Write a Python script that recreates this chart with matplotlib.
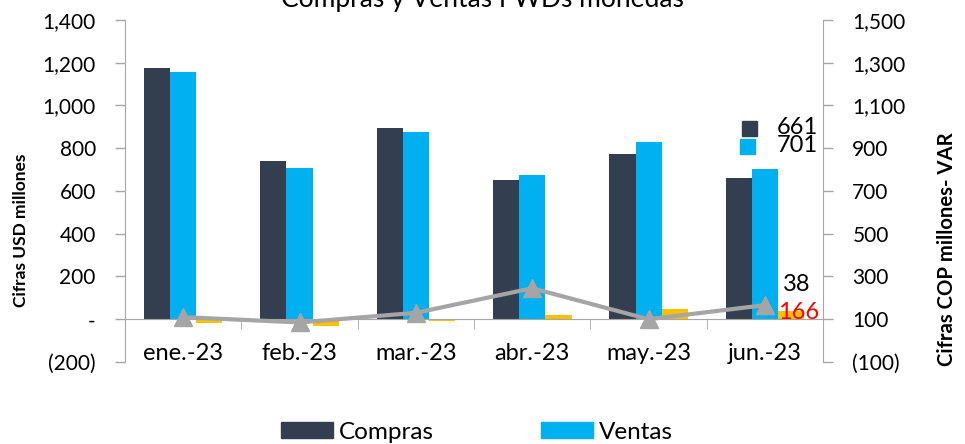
import matplotlib
matplotlib.use('Agg')
import matplotlib.pyplot as plt
import matplotlib.transforms as mtransforms
from matplotlib.patches import Patch
from matplotlib.ticker import FuncFormatter, FixedLocator
import numpy as np

plt.rcParams['font.family'] = ['Lato', 'DejaVu Sans']

# Datos
meses = ['ene.-23', 'feb.-23', 'mar.-23', 'abr.-23', 'may.-23', 'jun.-23']
compras = [1175, 740, 893, 652, 775, 661]
ventas = [1157, 708, 878, 675, 828, 701]
neto = [-18, -30, -10, 19, 48, 38]
var_cop = [110, 85, 130, 245, 100, 166]

c_compras = '#333F50'
c_ventas = '#00B0F0'
c_neto = '#FFC000'
c_var = '#A5A5A5'
c_eje = '#A6A6A6'

def fmt(v, pos=None):
    if v < 0:
        return '({:,.0f})'.format(-v)
    if v == 0:
        return '-'
    return '{:,.0f}'.format(v)

fig = plt.figure(figsize=(9.65, 4.44), dpi=100)
ax = fig.add_axes([0.1295, 0.1847, 0.7235, 0.7703])
ax2 = ax.twinx()

x = np.arange(len(meses))
w = 0.225
ax.bar(x - w, compras, w, color=c_compras, zorder=2)
ax.bar(x, ventas, w, color=c_ventas, zorder=2)
ax.bar(x + w, neto, w, color=c_neto, zorder=2)

ax.set_xlim(-0.5, len(meses) - 0.5)
ax.set_ylim(-200, 1400)
ax.set_yticks(np.arange(-200, 1401, 200))
ax.yaxis.set_major_formatter(FuncFormatter(fmt))

ax2.plot(x, var_cop, color=c_var, lw=3, marker='^', ms=13, zorder=3)
ax2.set_ylim(-100, 1500)
ax2.set_yticks(np.arange(-100, 1501, 200))
ax2.yaxis.set_major_formatter(FuncFormatter(fmt))

for a in (ax, ax2):
    a.spines['top'].set_visible(False)
    for s in a.spines.values():
        s.set_color(c_eje)
    a.tick_params(axis='y', colors=c_eje, labelcolor='black', labelsize=15,
                  length=7, width=1, pad=14)
ax.spines['right'].set_visible(False)
ax2.spines['left'].set_visible(False)
ax2.spines['bottom'].set_visible(False)
ax.spines['bottom'].set_position(('data', 0))

ax.set_xticks(x)
ax.set_xticklabels(meses)
ax.xaxis.set_minor_locator(FixedLocator(np.arange(0.5, len(meses) - 0.5, 1)))
ax.tick_params(axis='x', which='major', length=0, labelsize=17, pad=17)
ax.tick_params(axis='x', which='minor', length=7, color=c_eje)

ax.set_ylabel('Cifras USD millones', fontsize=12.5, fontweight='bold')
ax.yaxis.set_label_coords(-0.138, 0.386)
ax2.set_ylabel('Cifras COP millones- VAR', fontsize=14.6, fontweight='bold')
ax2.yaxis.set_label_coords(1.163, 0.33)

fig.text(0.50, 1 - 7 / 444, 'Compras y Ventas FWDs monedas', ha='center',
         va='baseline', fontsize=19)

# etiquetas de datos
ax.annotate('38', (x[-1] + w, neto[-1]), xytext=(4, 19), textcoords='offset points',
            ha='center', va='center', fontsize=17)
ax2.annotate(str(var_cop[-1]), (x[-1], var_cop[-1]), xytext=(24, -5),
             textcoords='offset points', ha='center', va='center', fontsize=17,
             color='red')
ax.annotate(str(compras[-1]), (x[-1], compras[-1]), xytext=(8.6, 36),
            textcoords='offset points', ha='left', va='center', fontsize=17)
ax.annotate(str(ventas[-1]), (x[-1], ventas[-1]), xytext=(8.6, 17),
            textcoords='offset points', ha='left', va='center', fontsize=17)
up_c = ax.transData + mtransforms.ScaledTranslation(0, 36 / 72, fig.dpi_scale_trans)
up_v = ax.transData + mtransforms.ScaledTranslation(0, 17 / 72, fig.dpi_scale_trans)
ax.plot([x[-1] - 0.138], [compras[-1]], marker='s', ms=10.8, color=c_compras,
        transform=up_c, clip_on=False, zorder=4)
ax.plot([x[-1] - 0.155], [ventas[-1]], marker='s', ms=10.8, color=c_ventas,
        transform=up_v, clip_on=False, zorder=4)

handles = [Patch(color=c_compras, label='Compras'), Patch(color=c_ventas, label='Ventas')]
fig.legend(handles=handles, loc='center', bbox_to_anchor=(477 / 965, 1 - 432 / 444),
           ncol=2, frameon=False, fontsize=17.5, handlelength=2.14, handleheight=0.62,
           handletextpad=0.25, columnspacing=4.4)

fig.savefig('out.png', dpi=100)
